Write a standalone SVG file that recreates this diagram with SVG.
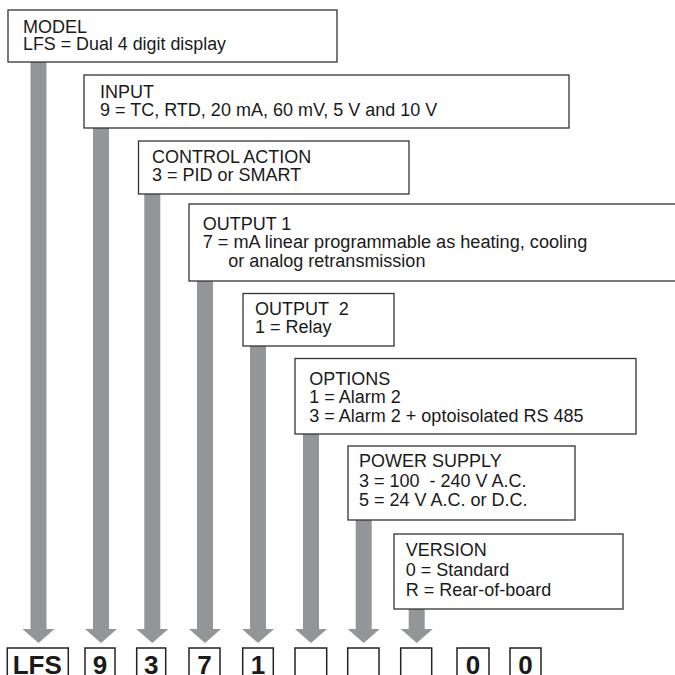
<svg xmlns="http://www.w3.org/2000/svg" width="675" height="675" viewBox="0 0 675 675">
<style>
.box{fill:#fff;stroke:#333;stroke-width:1.3}
.t{font-family:"Liberation Sans",Arial,sans-serif;font-size:18px;fill:#1a1a1a}
.code{fill:#fff;stroke:#222;stroke-width:1.5}
.ct{font-family:"Liberation Sans",Arial,sans-serif;font-size:26px;font-weight:bold;fill:#1a1a1a;text-anchor:middle}
.shaft{fill:#939598}
</style>
<defs>
<path id="head" d="M-16,0 L16,0 L0,14 Z" fill="#939598"/>
</defs>
<rect width="675" height="675" fill="#fff"/>
<g id="connectors">
<rect class="shaft" x="30.5" y="62" width="16" height="568"/>
<use href="#head" x="38.5" y="629"/>
<rect class="shaft" x="93" y="128" width="16" height="502"/>
<use href="#head" x="101" y="629"/>
<rect class="shaft" x="144.3" y="194" width="16" height="436"/>
<use href="#head" x="152.3" y="629"/>
<rect class="shaft" x="197" y="281" width="16" height="349"/>
<use href="#head" x="205" y="629"/>
<rect class="shaft" x="250" y="346" width="16" height="284"/>
<use href="#head" x="258" y="629"/>
<rect class="shaft" x="303" y="434" width="16" height="196"/>
<use href="#head" x="311" y="629"/>
<rect class="shaft" x="355.7" y="520" width="16" height="110"/>
<use href="#head" x="363.7" y="629"/>
<rect class="shaft" x="408.7" y="609" width="16" height="21"/>
<use href="#head" x="416.7" y="629"/>
</g>
<g id="model">
<rect class="box" x="8" y="10" width="329" height="52"/>
<text class="t" x="23" y="32.7">MODEL</text>
<text class="t" x="23" y="50.3" textLength="203" lengthAdjust="spacingAndGlyphs">LFS = Dual 4 digit display</text>
</g>
<g id="input">
<rect class="box" x="84" y="75" width="485" height="53"/>
<text class="t" x="100" y="98.3">INPUT</text>
<text class="t" x="100" y="116.3">9 = TC, RTD, 20 mA, 60 mV, 5 V and 10 V</text>
</g>
<g id="control-action">
<rect class="box" x="138.5" y="141" width="270.5" height="53"/>
<text class="t" x="152" y="163.3">CONTROL ACTION</text>
<text class="t" x="152" y="180.7">3 = PID or SMART</text>
</g>
<g id="output1">
<rect class="box" x="189" y="204" width="490" height="77"/>
<text class="t" x="202.7" y="230">OUTPUT 1</text>
<text class="t" x="202.7" y="248.3" textLength="384.6" lengthAdjust="spacingAndGlyphs">7 = mA linear programmable as heating, cooling</text>
<text class="t" x="228.3" y="266.6">or analog retransmission</text>
</g>
<g id="output2">
<rect class="box" x="243" y="293.5" width="151" height="52.5"/>
<text class="t" x="255" y="315">OUTPUT <tspan dx="5">2</tspan></text>
<text class="t" x="255" y="333.3">1 = Relay</text>
</g>
<g id="options">
<rect class="box" x="295" y="358.5" width="341" height="75.5"/>
<text class="t" x="309.3" y="385">OPTIONS</text>
<text class="t" x="309.3" y="403.3">1 = Alarm 2</text>
<text class="t" x="309.3" y="421.7">3 = Alarm 2 + optoisolated RS 485</text>
</g>
<g id="power-supply">
<rect class="box" x="348" y="446" width="227" height="74"/>
<text class="t" x="359" y="467.3">POWER SUPPLY</text>
<text class="t" x="359" y="486.8">3 = 100 <tspan dx="5">- 240 V A.C.</tspan></text>
<text class="t" x="359" y="506">5 = 24 V A.C. or D.C.</text>
</g>
<g id="version">
<rect class="box" x="394" y="534" width="229" height="75"/>
<text class="t" x="405.7" y="556">VERSION</text>
<text class="t" x="405.7" y="576">0 = Standard</text>
<text class="t" x="405.7" y="595.5">R = Rear-of-board</text>
</g>
<g id="code">
<rect class="code" x="7.3" y="648" width="61" height="32"/>
<text class="ct" x="37.3" y="674">LFS</text>
<rect class="code" x="85" y="648" width="30" height="32"/>
<text class="ct" x="100" y="674">9</text>
<rect class="code" x="136.7" y="648" width="29" height="32"/>
<text class="ct" x="151.2" y="674">3</text>
<rect class="code" x="189" y="648" width="31" height="32"/>
<text class="ct" x="204.5" y="674">7</text>
<rect class="code" x="242.7" y="648" width="30.6" height="32"/>
<text class="ct" x="258" y="674">1</text>
<rect class="code" x="295" y="648" width="31.7" height="32"/>
<rect class="code" x="347.7" y="648" width="31.3" height="32"/>
<rect class="code" x="400.7" y="648" width="31" height="32"/>
<rect class="code" x="457" y="648" width="32" height="32"/>
<text class="ct" x="473" y="674">0</text>
<rect class="code" x="510" y="648" width="31" height="32"/>
<text class="ct" x="525.5" y="674">0</text>
</g>
</svg>
